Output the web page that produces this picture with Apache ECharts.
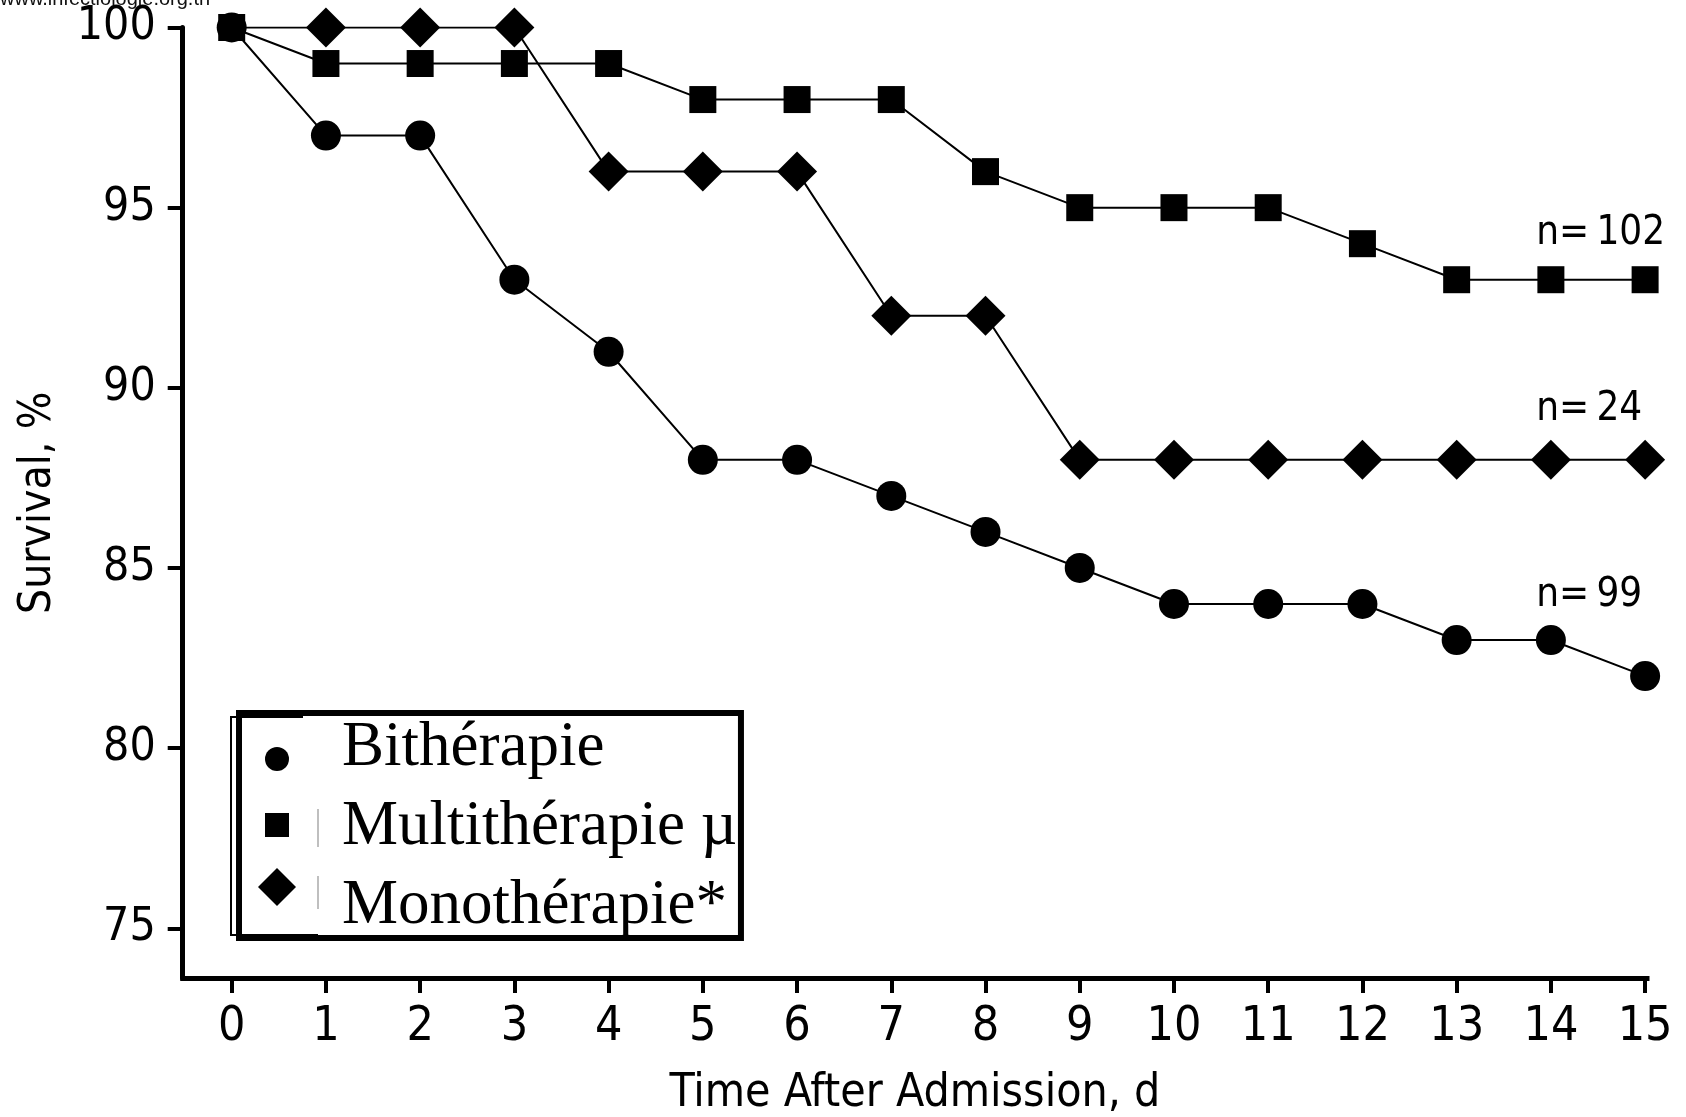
<!DOCTYPE html>
<html>
<head>
<meta charset="utf-8">
<script src="https://cdn.jsdelivr.net/npm/echarts@6/dist/echarts.min.js"></script>
<style>
html,body{margin:0;padding:0;background:#fff;}
#c{width:1686px;height:1117px;}
</style>
</head>
<body>
<div id="c"></div>
<script>
// ---- data ----
const days = [0,1,2,3,4,5,6,7,8,9,10,11,12,13,14,15];
const bitherapie    = [100,97,97,93,91,88,88,87,86,85,84,84,84,83,83,82];
const multitherapie = [100,99,99,99,99,98,98,98,96,95,95,95,94,93,93,93];
const monotherapie  = [100,100,100,100,96,96,96,92,92,88,88,88,88,88,88,88];
const xTickValues = [0,1,2,3,4,5,6,7,8,9,10,11,12,13,14,15];
const yTickValues = [75,80,85,90,95,100];
const seriesNames = ['Bithérapie','Multithérapie µ','Monothérapie*'];
const nLabelText = ['n=\u2009102','n=\u200924','n=\u200999'];
const nLabelX = [13.84,13.84,13.84];
const nLabelY = [94.29,89.40,84.23];

const NARROW = "'Liberation Sans Narrow','DejaVu Sans Condensed','Liberation Sans',sans-serif";
const SERIF = "'Liberation Serif','DejaVu Serif',serif";

function pts(arr, hideFirst){
  return days.map((d,i)=> (hideFirst && i===0) ? {value:[d, arr[i]], symbol:'none'} : [d, arr[i]]);
}

const lineBase = {
  type:'line',
  lineStyle:{color:'#000', width:2},
  itemStyle:{color:'#000', opacity:1},
  showSymbol:true,
  emphasis:{disabled:true},
  animation:false
};

const chart = echarts.init(document.getElementById('c'), null, {renderer:'canvas'});
chart.setOption({
  backgroundColor:'#fff',
  animation:false,
  grid:{left:182.7, right:39, top:27.5, bottom:139, containLabel:false, outerBoundsMode:'none'},
  xAxis:{
    type:'value', min:-0.52, max:15.02,
    axisLine:{show:true, onZero:false, lineStyle:{color:'#000', width:5, cap:'square'}},
    axisTick:{show:true, length:15, customValues:xTickValues, lineStyle:{color:'#000', width:4}},
    axisLabel:{customValues:xTickValues, fontSize:48, fontFamily:NARROW, color:'#000', margin:26},
    splitLine:{show:false},
    name:'Time After Admission, d', nameLocation:'middle', nameGap:93,
    nameTextStyle:{fontSize:46, fontFamily:NARROW, color:'#000'}
  },
  yAxis:{
    type:'value', min:73.62, max:100,
    axisLine:{show:true, onZero:false, lineStyle:{color:'#000', width:5}},
    axisTick:{show:true, length:15, customValues:yTickValues, lineStyle:{color:'#000', width:4}},
    axisLabel:{customValues:yTickValues, fontSize:46, fontFamily:NARROW, color:'#000', margin:27},
    splitLine:{show:false},
    name:'Survival, %', nameLocation:'middle', nameGap:122, nameRotate:90,
    nameTextStyle:{fontSize:44, fontFamily:NARROW, color:'#000'}
  },
  legend:{
    orient:'vertical', left:239, top:713,
    data:[
      {name:seriesNames[0], icon:'circle'},
      {name:seriesNames[1], icon:'rect'},
      {name:seriesNames[2], icon:'diamond'}
    ],
    itemWidth:28, itemHeight:28, itemGap:15,
    padding:[3,4,0,24],
    borderColor:'#000', borderWidth:6, backgroundColor:'#fff',
    selectedMode:false,
    itemStyle:{color:'rgba(0,0,0,0)', borderWidth:0},
    textStyle:{fontFamily:SERIF, fontSize:63, lineHeight:64, color:'#000', padding:[0,0,0,46]}
  },
  graphic:[
    {type:'text', left:0, top:-11, z:10, style:{text:'www.infectiologie.org.tn', fontSize:20, fontFamily:"'Liberation Sans',sans-serif", fill:'#111'}},
    {type:'polyline', z:10, silent:true, shape:{points:[[303,717],[231,717],[231,935],[318,935]]}, style:{stroke:'#000', lineWidth:2, fill:null}},
    {type:'line', z:10, silent:true, shape:{x1:318,y1:809,x2:318,y2:847}, style:{stroke:'#aaa', lineWidth:1.5}},
    {type:'line', z:10, silent:true, shape:{x1:318,y1:876,x2:318,y2:909}, style:{stroke:'#aaa', lineWidth:1.5}},
    // legend markers
    {type:'circle', z:10, silent:true, shape:{cx:277, cy:759, r:12}, style:{fill:'#000'}},
    {type:'rect', z:10, silent:true, shape:{x:265, y:813, width:24, height:24}, style:{fill:'#000'}},
    {type:'polygon', z:10, silent:true, shape:{points:[[277,868],[296,887],[277,906],[258,887]]}, style:{fill:'#000'}}
  ],
  series:[
    Object.assign({}, lineBase, {name:seriesNames[1], data:pts(multitherapie, false), symbol:'rect', symbolSize:27}),
    Object.assign({}, lineBase, {name:seriesNames[2], data:pts(monotherapie, true), symbol:'diamond', symbolSize:40}),
    Object.assign({}, lineBase, {name:seriesNames[0], data:pts(bitherapie, false), symbol:'circle', symbolSize:30}),
    {
      type:'scatter', silent:true, z:5, animation:false,
      symbolSize:1, itemStyle:{color:'rgba(0,0,0,0)', opacity:1},
      data:nLabelText.map((t,i)=>({value:[nLabelX[i], nLabelY[i]], label:{formatter:t}})),
      label:{show:true, position:'right', distance:0, fontSize:40, fontFamily:NARROW, color:'#000', opacity:1},
      emphasis:{disabled:true}
    }
  ]
});
</script>
</body>
</html>
